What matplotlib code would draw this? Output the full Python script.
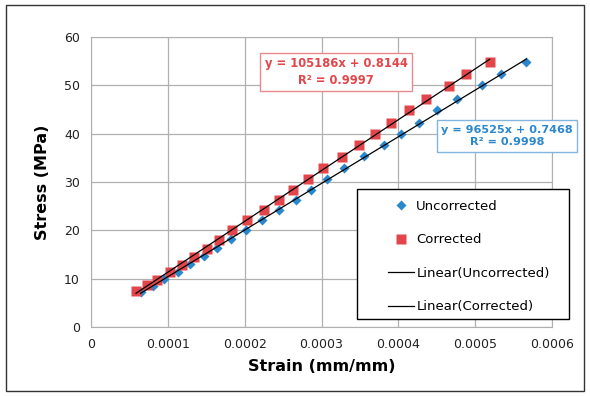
import matplotlib
matplotlib.use("Agg")
import matplotlib.pyplot as plt
import numpy as np

# values
strain_unc = [0.0000645, 0.0000806, 0.0000953, 0.0001133, 0.0001295, 0.0001466, 0.0001637, 0.0001817,
              0.0002013, 0.0002223, 0.0002443, 0.0002672, 0.0002868, 0.0003078, 0.0003297, 0.0003556,
              0.0003810, 0.0004035, 0.0004265, 0.0004509, 0.0004763, 0.0005090, 0.0005340, 0.0005667]
stress_unc = [7.2, 8.5, 10.0, 11.4, 13.1, 14.6, 16.3, 18.3, 20.1, 22.2, 24.3, 26.3,
              28.4, 30.7, 32.9, 35.3, 37.6, 40.0, 42.3, 44.8, 47.2, 50.0, 52.4, 54.8]
strain_cor = [0.0000586, 0.0000733, 0.0000855, 0.0001026, 0.0001182, 0.0001343, 0.0001505, 0.0001661,
              0.0001832, 0.0002027, 0.0002247, 0.0002443, 0.0002628, 0.0002824, 0.0003019, 0.0003263,
              0.0003493, 0.0003693, 0.0003908, 0.0004143, 0.0004363, 0.0004656, 0.0004885, 0.0005188]
stress_cor = [7.4, 8.6, 9.8, 11.4, 12.9, 14.5, 16.2, 18.1, 20.0, 22.2, 24.3, 26.3,
              28.4, 30.6, 32.9, 35.2, 37.6, 40.0, 42.3, 44.8, 47.1, 49.9, 52.3, 54.8]
fit_unc = [96525, 0.7468, 0.9998]   # slope, intercept, R2
fit_cor = [105186, 0.8144, 0.9997]

blue = "#2a87cc"
red = "#e2464a"

fig = plt.figure(figsize=(5.9, 3.96), dpi=100)
ax = fig.add_axes([91/590, 1-327/396, (552-91)/590, (327-37)/396])

ax.plot(strain_unc, stress_unc, "D", color=blue, ms=5.5, mec="none", label="Uncorrected", zorder=3)
ax.plot(strain_cor, stress_cor, "s", color=red, ms=6.8, mec="none", label="Corrected", zorder=3)

xu = np.array([min(strain_unc), max(strain_unc)])
xc = np.array([min(strain_cor), max(strain_cor)])
ax.plot(xu, fit_unc[0]*xu + fit_unc[1], color="black", lw=0.9, label="Linear(Uncorrected)", zorder=4)
ax.plot(xc, fit_cor[0]*xc + fit_cor[1], color="black", lw=0.9, label="Linear(Corrected)", zorder=4)

ax.set_xlim(0, 0.0006)
ax.set_ylim(0, 60)
ax.set_xticks([0, 0.0001, 0.0002, 0.0003, 0.0004, 0.0005, 0.0006])
ax.set_xticklabels(["0", "0.0001", "0.0002", "0.0003", "0.0004", "0.0005", "0.0006"])
ax.set_yticks(range(0, 61, 10))
ax.grid(True, color="#b0b0b0", lw=0.9)
ax.set_axisbelow(True)
for s in ax.spines.values():
    s.set_color("#b0b0b0")
ax.tick_params(length=0, labelsize=9, pad=8, colors="#222222")
ax.set_xlabel("Strain (mm/mm)", fontsize=11.5, fontweight="bold", labelpad=6)
ax.set_ylabel("Stress (MPa)", fontsize=11.5, fontweight="bold", labelpad=10)

ax.text(336/590, 1-72/396, "y = %dx + %.4f\nR² = %.4f" % tuple(fit_cor), transform=fig.transFigure,
        ha="center", va="center", color=red, fontsize=8.3, fontweight="bold", linespacing=1.3,
        bbox=dict(boxstyle="square,pad=0.4", fc="white", ec="#e8898b", lw=1))
ax.text(507/590, 1-136/396, "y = %dx + %.4f\nR² = %.4f" % tuple(fit_unc), transform=fig.transFigure,
        ha="center", va="center", color=blue, fontsize=8.1, fontweight="bold", linespacing=1.3,
        bbox=dict(boxstyle="square,pad=0.4", fc="white", ec="#7fb5de", lw=1))

# legend box drawn separately so it can be wider than its contents
ax.add_patch(plt.Rectangle((357/590, 1-319/396), 212/590, 130/396, transform=fig.transFigure,
                           fc="white", ec="black", lw=1, zorder=5, clip_on=False))
leg = ax.legend(loc="center left", bbox_to_anchor=(388/590, 1-256.5/396), bbox_transform=fig.transFigure,
                fontsize=9.5, frameon=False, borderpad=0, labelspacing=1.55,
                handlelength=2.0, handletextpad=0.15, borderaxespad=0)
leg.set_zorder(6)

fig.add_artist(plt.Rectangle((6/590, 5/396), 578/590, 386/396, transform=fig.transFigure,
                             fill=False, ec="#333333", lw=1))

fig.savefig("out.png", dpi=100)
